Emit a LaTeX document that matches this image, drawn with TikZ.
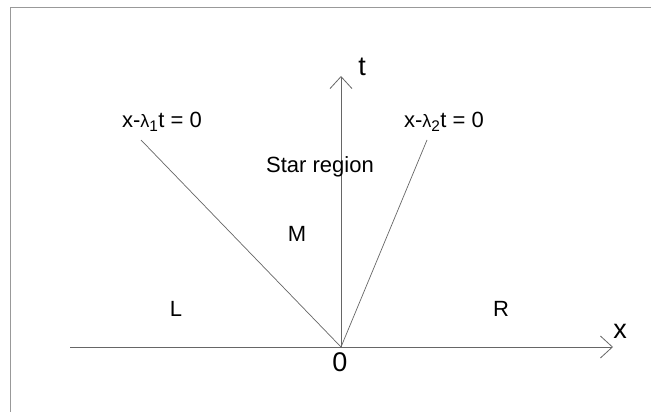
\documentclass[tikz,border=0pt]{standalone}
\usepackage{fontspec}
\setmainfont{Liberation Sans}
\usetikzlibrary{arrows.meta}
\begin{document}
\begin{tikzpicture}[x=1pt,y=-1pt,
  axis/.style={draw=black!60, line width=0.8pt, -{Straight Barb[length=12pt,width=22pt]}},
  wave/.style={draw=black!60, line width=0.7pt},
  lab/.style={font=\fontsize{22}{26}\selectfont, inner sep=0pt, anchor=center},
  axlab/.style={font=\fontsize{27}{30}\selectfont, inner sep=0pt, anchor=center}]
\useasboundingbox (0,0) rectangle (651,412);
\draw[black!40, line width=1.6pt] (10.5,412) -- (10.5,7.5) -- (651,7.5);
\coordinate (O) at (341,347);
\coordinate (xs) at (70,347);
\coordinate (xe) at (613,347);
\coordinate (te) at (341,76);
\coordinate (l1) at (141,140);
\coordinate (l2) at (427,140);
\draw[axis] (xs) -- (xe);
\draw[axis] (O) -- (te);
\draw[wave] (O) -- (l1);
\draw[wave] (O) -- (l2);
\node[axlab] (tl) at (362,67) {t};
\node[axlab] (xl) at (620,331) {x};
\node[axlab] (zero) at (340,362) {0};
\node[lab] (c1) at (162,122) {x-{\fontsize{18}{20}\selectfont λ}\textsubscript{1}t = 0};
\node[lab] (c2) at (444,122) {x-{\fontsize{18}{20}\selectfont λ}\textsubscript{2}t = 0};
\node[lab] (star) at (320,167) {Star region};
\node[lab] (M) at (297,234) {M};
\node[lab] (L) at (176,309) {L};
\node[lab] (R) at (501,309) {R};
\end{tikzpicture}
\end{document}
